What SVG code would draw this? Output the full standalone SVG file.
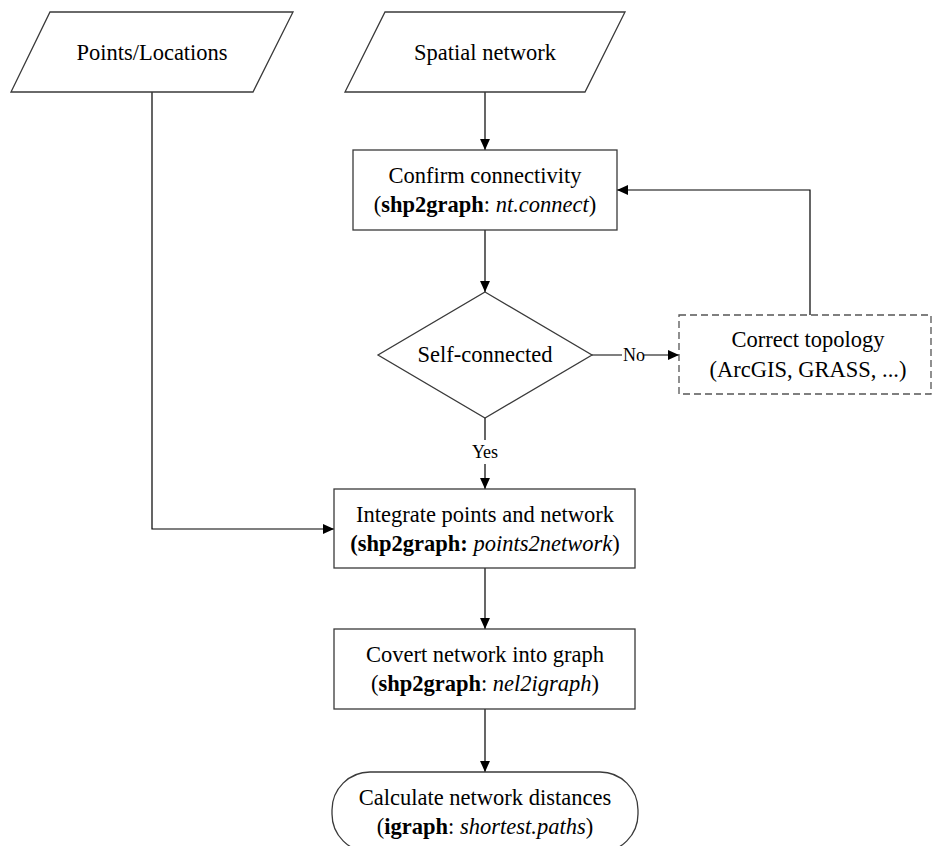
<svg xmlns="http://www.w3.org/2000/svg" width="933" height="846" viewBox="0 0 933 846">
<style>
.shape{fill:#fff;stroke:#3a3a3a;stroke-width:1.3}
.dash{fill:#fff;stroke:#555;stroke-width:1.3;stroke-dasharray:7,4}
.edge{fill:none;stroke:#000;stroke-width:1.2}
text{font-family:'Liberation Serif','DejaVu Serif',serif;font-size:22.5px;fill:#000;text-anchor:middle}
.lbl{font-size:18px}
.b{font-weight:bold}
.i{font-style:italic}
</style>
<defs>
<marker id="arr" viewBox="0 0 10 10" refX="10" refY="5" markerWidth="11" markerHeight="11" markerUnits="userSpaceOnUse" orient="auto">
<path d="M0,0.5 L10,5 L0,9.5 z" fill="#000"/>
</marker>
</defs>
<rect width="933" height="846" fill="#fff"/>
<g id="connectors">
<path class="edge" d="M485,92 V150" marker-end="url(#arr)"/>
<path class="edge" d="M485,230 V292" marker-end="url(#arr)"/>
<path class="edge" d="M592,355 H622 M644,355 H679" marker-end="url(#arr)"/>
<path class="edge" d="M810,315 V190 H617" marker-end="url(#arr)"/>
<path class="edge" d="M485,418 V440 M485,464 V489" marker-end="url(#arr)"/>
<path class="edge" d="M152,92 V529 H334" marker-end="url(#arr)"/>
<path class="edge" d="M485,568 V629" marker-end="url(#arr)"/>
<path class="edge" d="M485,709 V772" marker-end="url(#arr)"/>
<text class="lbl" x="634" y="361" font-family="Liberation Serif, serif">No</text>
<text class="lbl" x="485" y="458" font-family="Liberation Serif, serif">Yes</text>
</g>
<g id="points">
<polygon class="shape" points="50,12 293,12 253,92 11,92"/>
<text x="152" y="60" font-family="Liberation Serif, serif">Points/Locations</text>
</g>
<g id="spatial">
<polygon class="shape" points="385,12 625,12 585,92 345,92"/>
<text x="485" y="60" font-family="Liberation Serif, serif">Spatial network</text>
</g>
<g id="confirm">
<rect class="shape" x="353" y="150" width="264" height="80"/>
<text x="485" y="183" font-family="Liberation Serif, serif">Confirm connectivity</text>
<text x="485" y="212" font-family="Liberation Serif, serif">(<tspan class="b">shp2graph</tspan>: <tspan class="i">nt.connect</tspan>)</text>
</g>
<g id="selfconnected">
<polygon class="shape" points="485,292 592,355 485,418 378,355"/>
<text x="485" y="362" font-family="Liberation Serif, serif">Self-connected</text>
</g>
<g id="correct">
<rect class="dash" x="679" y="315" width="252" height="79"/>
<text x="808" y="347" font-family="Liberation Serif, serif">Correct topology</text>
<text x="808" y="377" font-family="Liberation Serif, serif">(ArcGIS, GRASS, ...)</text>
</g>
<g id="integrate">
<rect class="shape" x="334" y="489" width="301" height="79"/>
<text x="485" y="522" font-family="Liberation Serif, serif">Integrate points and network</text>
<text x="485" y="551" font-family="Liberation Serif, serif"><tspan class="b">(shp2graph:</tspan> <tspan class="i">points2network</tspan>)</text>
</g>
<g id="convert">
<rect class="shape" x="334" y="629" width="301" height="80"/>
<text x="485" y="662" font-family="Liberation Serif, serif">Covert network into graph</text>
<text x="485" y="691" font-family="Liberation Serif, serif">(<tspan class="b">shp2graph</tspan>: <tspan class="i">nel2igraph</tspan>)</text>
</g>
<g id="calculate">
<rect class="shape" x="332" y="772" width="306" height="80" rx="38" ry="38"/>
<text x="485" y="805" font-family="Liberation Serif, serif">Calculate network distances</text>
<text x="485" y="834" font-family="Liberation Serif, serif">(<tspan class="b">igraph</tspan>: <tspan class="i">shortest.paths</tspan>)</text>
</g>
</svg>
